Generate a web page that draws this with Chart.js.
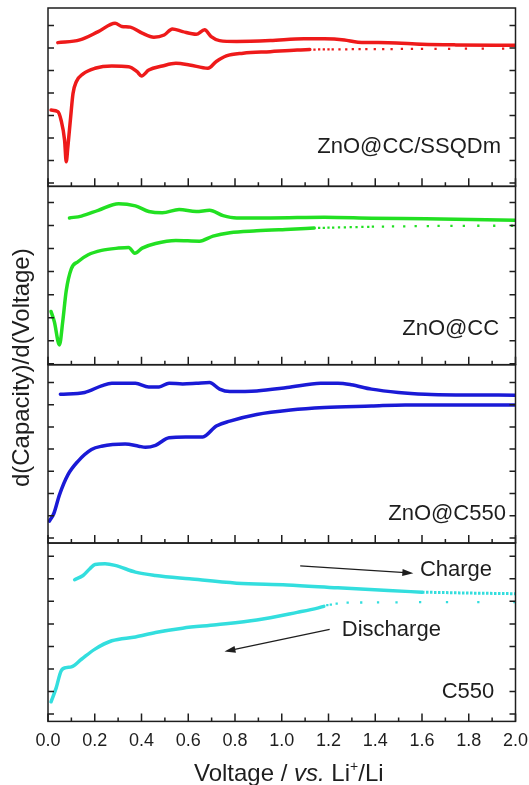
<!DOCTYPE html>
<html>
<head>
<meta charset="utf-8">
<script src="https://cdn.jsdelivr.net/npm/chart.js@4.4.1/dist/chart.umd.min.js"></script>
<style>
  html, body { margin: 0; padding: 0; background: #fff; }
  #wrap { width: 529px; height: 785px; }
</style>
</head>
<body>
<div id="wrap"><canvas id="dqdvChart" width="529" height="785"></canvas></div>
<script>
// dQ/dV curves, [voltage, value] pairs, one panel per sample (arbitrary offset units)
const ssqdCharge = [[0.042,6.24],[0.136,6.36],[0.215,6.73],[0.287,7.10],[0.316,6.96],[0.352,6.93],[0.403,6.66],[0.453,6.48],[0.497,6.58],[0.532,6.85],[0.576,6.73],[0.634,6.61],[0.670,6.81],[0.698,6.51],[0.734,6.33],[0.807,6.29],[0.951,6.33],[1.095,6.41],[1.182,6.41],[1.268,6.36],[1.326,6.26],[1.456,6.24],[1.600,6.17],[1.745,6.14],[2.0,6.12]];
const ssqdDischarge = [[0.013,3.24],[0.042,3.17],[0.056,2.79],[0.071,1.90],[0.078,0.94],[0.085,1.61],[0.097,2.94],[0.107,3.98],[0.121,4.50],[0.150,4.85],[0.201,5.10],[0.273,5.20],[0.345,5.17],[0.381,4.95],[0.400,4.76],[0.431,5.02],[0.489,5.20],[0.547,5.32],[0.605,5.25],[0.684,5.10],[0.720,5.40],[0.763,5.65],[0.835,5.77],[0.951,5.84],[1.066,5.91],[1.12,5.93]];
const ssqdDischargeDots = [[1.14,5.93],[1.16,5.94],[1.18,5.94],[1.20,5.94],[1.218,5.94],[1.247,5.94],[1.276,5.94],[1.304,5.95],[1.333,5.95],[1.362,5.95],[1.398,5.95],[1.434,5.95],[1.470,5.95],[1.514,5.96],[1.557,5.96],[1.600,5.96],[1.658,5.96],[1.716,5.96],[1.788,5.97],[1.860,5.97],[1.947,5.97]];

const ccCharge = [[0.092,6.33],[0.143,6.41],[0.215,6.66],[0.302,6.95],[0.374,6.85],[0.431,6.61],[0.489,6.55],[0.561,6.70],[0.634,6.61],[0.691,6.66],[0.749,6.43],[0.807,6.33],[0.951,6.33],[1.182,6.36],[1.384,6.32],[1.615,6.29],[2.0,6.23]];
const ccDischarge = [[0.013,2.27],[0.027,1.83],[0.049,0.82],[0.063,1.83],[0.078,3.17],[0.100,4.13],[0.128,4.43],[0.172,4.73],[0.229,4.92],[0.302,5.02],[0.345,5.05],[0.371,4.80],[0.403,5.02],[0.460,5.22],[0.547,5.35],[0.648,5.32],[0.706,5.54],[0.778,5.69],[0.893,5.77],[1.038,5.84],[1.139,5.89]];
const ccDischargeDots = [[1.16,5.90],[1.18,5.90],[1.20,5.91],[1.22,5.91],[1.245,5.92],[1.27,5.92],[1.295,5.93],[1.32,5.93],[1.345,5.94],[1.37,5.94],[1.390,5.95],[1.433,5.95],[1.476,5.96],[1.524,5.96],[1.573,5.97],[1.625,5.97],[1.671,5.98],[1.726,5.98],[1.779,5.98],[1.841,5.99],[1.909,5.99],[1.985,5.99]];

const zc550Charge = [[0.053,6.47],[0.157,6.55],[0.229,6.85],[0.273,6.97],[0.374,6.96],[0.431,6.80],[0.475,6.80],[0.518,6.97],[0.576,6.93],[0.634,6.96],[0.691,7.00],[0.734,6.70],[0.778,6.59],[0.893,6.62],[1.023,6.77],[1.167,6.96],[1.240,6.97],[1.297,6.90],[1.384,6.70],[1.499,6.55],[1.615,6.47],[1.745,6.44],[2.0,6.43]];
const zc550Discharge = [[0.006,0.76],[0.025,1.10],[0.049,1.94],[0.085,2.84],[0.128,3.45],[0.186,3.98],[0.229,4.13],[0.330,4.23],[0.388,4.13],[0.417,4.08],[0.460,4.17],[0.518,4.51],[0.590,4.54],[0.662,4.55],[0.720,5.04],[0.778,5.26],[0.893,5.56],[1.038,5.76],[1.182,5.87],[1.384,5.94],[1.528,5.99],[2.0,5.99]];

const c550Charge = [[0.114,5.96],[0.150,6.15],[0.179,6.45],[0.201,6.64],[0.244,6.67],[0.287,6.60],[0.374,6.30],[0.460,6.15],[0.605,6.00],[0.807,5.81],[1.023,5.73],[1.240,5.60],[1.456,5.48],[1.600,5.41]];
const c550ChargeDots = [[1.600,5.41],[1.800,5.37],[2.0,5.34]];
const c550Discharge = [[0.013,0.54],[0.035,1.16],[0.056,1.91],[0.078,2.06],[0.100,2.09],[0.143,2.43],[0.201,2.88],[0.273,3.25],[0.374,3.42],[0.460,3.62],[0.576,3.81],[0.720,3.96],[0.893,4.17],[1.066,4.51],[1.153,4.70],[1.18,4.78]];
const c550DischargeDots = [[1.195,4.83],[1.21,4.86],[1.235,4.90],[1.282,4.94],[1.340,4.95],[1.412,4.96],[1.491,4.96],[1.592,4.97],[1.707,4.97],[1.841,4.97],[1.995,4.97]];

const panelIds = ['p1', 'p2', 'p3', 'p4'];
const panelNames = ['ZnO@CC/SSQDm', 'ZnO@CC', 'ZnO@C550', 'C550'];
const panelNamePos = [[1.938, 1.61], [1.930, 1.53], [1.959, 1.10], [1.909, 0.98]];
const yTickValues = [0, 1, 2, 3, 4, 5, 6, 7];

const RED = '#ee1a1a', GREEN = '#22e022', BLUE = '#1a1ad6', CYAN = '#33dede';
const FONT = '"Liberation Sans", Arial, sans-serif';
const INK = '#1e1e1e';

Chart.defaults.font.family = FONT;
Chart.defaults.color = INK;

function lineSet(data, axis, color) {
  return {
    data: data, yAxisID: axis, borderColor: color, backgroundColor: color,
    borderWidth: 3.5, pointRadius: 0, cubicInterpolationMode: 'monotone',
    borderCapStyle: 'round', borderJoinStyle: 'round'
  };
}
function dotSet(data, axis, color) {
  return {
    data: data, yAxisID: axis, showLine: false, backgroundColor: color,
    pointRadius: 1.6, pointBorderWidth: 0, pointStyle: 'rect'
  };
}
function panelAxis(min, max, weight) {
  return {
    type: 'linear', position: 'left', stack: 'panels', stackWeight: 1, weight: weight,
    min: min, max: max,
    ticks: { display: false },
    grid: { display: false, drawTicks: false },
    border: { display: false }
  };
}

function arrow(ctx, x1, y1, x2, y2) {
  const ang = Math.atan2(y2 - y1, x2 - x1);
  ctx.beginPath();
  ctx.moveTo(x1, y1);
  ctx.lineTo(x2 - 8 * Math.cos(ang), y2 - 8 * Math.sin(ang));
  ctx.stroke();
  ctx.beginPath();
  ctx.moveTo(x2, y2);
  ctx.lineTo(x2 - 11 * Math.cos(ang) + 3.5 * Math.sin(ang), y2 - 11 * Math.sin(ang) - 3.5 * Math.cos(ang));
  ctx.lineTo(x2 - 11 * Math.cos(ang) - 3.5 * Math.sin(ang), y2 - 11 * Math.sin(ang) + 3.5 * Math.cos(ang));
  ctx.closePath();
  ctx.fill();
}

const panelFrame = {
  id: 'panelFrame',
  afterDatasetsDraw(chart) {
    const { ctx, chartArea: a, scales } = chart;
    const xs = scales.x;
    ctx.save();
    ctx.strokeStyle = INK;
    ctx.fillStyle = INK;
    ctx.lineWidth = 1.5;
    panelIds.forEach((id, k) => {
      const s = scales[id];
      ctx.strokeRect(a.left, s.top, a.right - a.left, s.bottom - s.top);
      ctx.beginPath();
      yTickValues.forEach(v => {
        const y = s.getPixelForValue(v);
        ctx.moveTo(a.left, y); ctx.lineTo(a.left + 6, y);
        ctx.moveTo(a.right, y); ctx.lineTo(a.right - 6, y);
      });
      xs.ticks.forEach((t, i) => {
        const x = xs.getPixelForValue(t.value);
        ctx.moveTo(x, s.bottom); ctx.lineTo(x, s.bottom - 8);
        if (i < xs.ticks.length - 1) {
          const xm = xs.getPixelForValue((t.value + xs.ticks[i + 1].value) / 2);
          ctx.moveTo(xm, s.bottom); ctx.lineTo(xm, s.bottom - 4);
        }
      });
      ctx.stroke();

      ctx.font = '22px ' + FONT;
      ctx.textAlign = 'right';
      ctx.textBaseline = 'middle';
      ctx.fillText(panelNames[k], xs.getPixelForValue(panelNamePos[k][0]), s.getPixelForValue(panelNamePos[k][1]));
    });

    // charge / discharge notes in the C550 panel
    const p4 = scales.p4;
    ctx.textAlign = 'left';
    ctx.fillText('Charge', xs.getPixelForValue(1.591), p4.getPixelForValue(6.39));
    ctx.fillText('Discharge', xs.getPixelForValue(1.257), p4.getPixelForValue(3.75));
    ctx.lineWidth = 1.2;
    arrow(ctx, xs.getPixelForValue(1.079), p4.getPixelForValue(6.58), xs.getPixelForValue(1.563), p4.getPixelForValue(6.25));
    arrow(ctx, xs.getPixelForValue(1.205), p4.getPixelForValue(3.76), xs.getPixelForValue(0.755), p4.getPixelForValue(2.77));

    // y axis title
    ctx.save();
    ctx.translate(22, (a.top + a.bottom) / 2 + 3);
    ctx.rotate(-Math.PI / 2);
    ctx.textAlign = 'center';
    ctx.textBaseline = 'middle';
    ctx.font = '24px ' + FONT;
    ctx.fillText('d(Capacity)/d(Voltage)', 0, 0);
    ctx.restore();

    // x axis title with italic "vs." and superscript "+"
    const parts = [
      ['Voltage / ', '24px ', 0], ['vs.', 'italic 24px ', 0], [' Li', '24px ', 0],
      ['+', '14px ', -10], ['/Li', '24px ', 0]
    ];
    let total = 0;
    parts.forEach(p => { ctx.font = p[1] + FONT; total += ctx.measureText(p[0]).width; });
    let x = (a.left + a.right) / 2 + 7 - total / 2;
    ctx.textAlign = 'left';
    ctx.textBaseline = 'alphabetic';
    parts.forEach(p => {
      ctx.font = p[1] + FONT;
      ctx.fillText(p[0], x, 781 + p[2]);
      x += ctx.measureText(p[0]).width;
    });
    ctx.restore();
  }
};

new Chart(document.getElementById('dqdvChart'), {
  type: 'line',
  data: {
    datasets: [
      lineSet(ssqdCharge, 'p1', RED),
      lineSet(ssqdDischarge, 'p1', RED),
      dotSet(ssqdDischargeDots, 'p1', RED),
      lineSet(ccCharge, 'p2', GREEN),
      lineSet(ccDischarge, 'p2', GREEN),
      dotSet(ccDischargeDots, 'p2', GREEN),
      lineSet(zc550Charge, 'p3', BLUE),
      lineSet(zc550Discharge, 'p3', BLUE),
      lineSet(c550Charge, 'p4', CYAN),
      Object.assign(lineSet(c550ChargeDots, 'p4', CYAN), { borderDash: [2.5, 1.5], borderWidth: 3, borderCapStyle: 'butt' }),
      lineSet(c550Discharge, 'p4', CYAN),
      dotSet(c550DischargeDots, 'p4', CYAN)
    ]
  },
  options: {
    responsive: false,
    animation: false,
    layout: { padding: { left: 48, right: 13.5, top: 8, bottom: 24 } },
    plugins: { legend: { display: false }, tooltip: { enabled: false } },
    scales: {
      x: {
        type: 'linear', min: 0, max: 2,
        ticks: {
          stepSize: 0.2, padding: 9, maxRotation: 0, autoSkip: false,
          font: { size: 18 }, color: INK,
          callback: v => v.toFixed(1)
        },
        grid: { display: false, drawTicks: false },
        border: { display: false },
        afterFit: s => { s.paddingLeft = 0; s.paddingRight = 0; }
      },
      p1: panelAxis(-0.15, 7.78, 4),
      p2: panelAxis(-0.04, 7.70, 3),
      p3: panelAxis(-0.23, 7.80, 2),
      p4: panelAxis(-0.33, 7.59, 1)
    }
  },
  plugins: [panelFrame]
});
</script>
</body>
</html>
